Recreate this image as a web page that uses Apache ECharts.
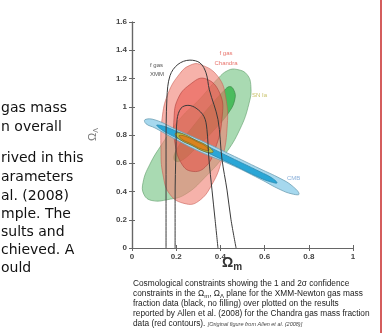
<!DOCTYPE html>
<html>
<head>
<meta charset="utf-8">
<script src="https://cdn.jsdelivr.net/npm/echarts@6/dist/echarts.min.js"></script>
<style>
html, body { margin: 0; padding: 0; background: #fff; }
#chart { width: 390px; height: 333px; }
</style>
</head>
<body>
<div id="chart"></div>
<script>
// contour outlines, [Omega_m, Omega_Lambda]
const snIa2 = [[0.475,1.264],[0.520,1.229],[0.538,1.143],[0.529,1.021],[0.489,0.843],[0.421,0.664],[0.330,0.50],[0.240,0.379],[0.163,0.343],[0.090,0.336],[0.054,0.379],[0.050,0.464],[0.081,0.593],[0.136,0.736],[0.217,0.914],[0.308,1.057],[0.389,1.20],[0.434,1.257]];
const snIa1 = [[0.443,1.143],[0.462,1.114],[0.466,1.057],[0.443,0.971],[0.376,0.843],[0.285,0.70],[0.217,0.614],[0.190,0.629],[0.208,0.714],[0.285,0.879],[0.362,1.021],[0.416,1.114]];
const chandra2 = [[0.308,1.30],[0.389,1.214],[0.425,1.057],[0.430,0.843],[0.407,0.629],[0.362,0.45],[0.299,0.329],[0.240,0.314],[0.172,0.379],[0.140,0.521],[0.131,0.70],[0.136,0.914],[0.163,1.093],[0.217,1.236],[0.262,1.293]];
const chandra1 = [[0.330,1.20],[0.398,1.093],[0.407,0.914],[0.376,0.70],[0.330,0.571],[0.271,0.543],[0.226,0.593],[0.195,0.736],[0.190,0.914],[0.208,1.057],[0.262,1.157]];
const cmb2 = [[0.059,0.909],[0.104,0.907],[0.195,0.843],[0.308,0.764],[0.443,0.664],[0.579,0.561],[0.670,0.493],[0.724,0.441],[0.756,0.382],[0.724,0.383],[0.670,0.414],[0.579,0.489],[0.443,0.593],[0.308,0.681],[0.195,0.771],[0.104,0.850],[0.063,0.880]];
const cmb1 = [[0.113,0.871],[0.172,0.846],[0.308,0.746],[0.443,0.643],[0.579,0.540],[0.633,0.496],[0.656,0.461],[0.624,0.470],[0.579,0.497],[0.443,0.600],[0.308,0.700],[0.172,0.803],[0.127,0.846]];
const joint2 = [[0.195,0.810],[0.226,0.811],[0.285,0.766],[0.339,0.725],[0.367,0.680],[0.330,0.682],[0.271,0.726],[0.217,0.768]];
const joint1 = [[0.213,0.796],[0.244,0.790],[0.299,0.749],[0.330,0.725],[0.348,0.693],[0.317,0.699],[0.262,0.741],[0.226,0.769]];
const xmmOuter = [[0.154,0],[0.154,0.34],[0.154,0.70],[0.158,1.06],[0.172,1.22],[0.208,1.30],[0.262,1.33],[0.308,1.31],[0.335,1.24],[0.350,1.12],[0.389,0.91],[0.407,0.63],[0.430,0.41],[0.448,0.20],[0.471,0]];
const xmmInner = [[0.195,0],[0.195,0.34],[0.199,0.70],[0.204,0.91],[0.222,0.99],[0.253,1.01],[0.290,0.99],[0.326,0.93],[0.339,0.84],[0.348,0.63],[0.362,0.41],[0.376,0.20],[0.389,0]];

const bodyLines = ['gas mass', 'n overall', 'rived in this', 'arameters', 'al. (2008)', 'mple. The', 'sults and', 'chieved. A', 'ould'];
const bodyY = [109, 128, 159, 178, 197, 215, 233, 251, 269];
const captionLines = [
  'Cosmological constraints showing the 1 and 2\u03c3 confidence',
  'constraints in the \u03a9{s|m}, \u03a9{s|\u039b} plane for the XMM-Newton gas mass',
  'fraction data (black, no filling) over plotted on the results',
  'reported by Allen et al. (2008) for the Chandra gas mass fraction',
  'data (red contours). {sm|[Original figure from Allen et al. (2008)]}'
];

const chart = echarts.init(document.getElementById('chart'));

function blob(name, pts, fill, stroke, z) {
  return {
    type: 'custom',
    name: name,
    z: z,
    silent: true,
    clip: true,
    data: [0],
    renderItem: function (params, api) {
      return {
        type: 'polygon',
        shape: { points: pts.map(p => api.coord(p)), smooth: 0.45 },
        style: { fill: fill, stroke: stroke, lineWidth: 0.8 }
      };
    }
  };
}

function contour(name, pts) {
  return {
    type: 'line',
    name: name,
    z: 20,
    data: pts,
    smooth: 0.35,
    showSymbol: false,
    silent: true,
    lineStyle: { color: '#3a3a3a', width: 1 }
  };
}

const tickLabel = { color: '#444', fontSize: 8, fontWeight: 'bold', fontFamily: 'Liberation Sans' };
const frame = { lineStyle: { color: '#666', width: 1.2 } };
const ticks = { inside: true, length: 3, lineStyle: { color: '#666' } };

const graphics = [];
bodyLines.forEach((t, i) => {
  graphics.push({ type: 'text', left: 1, top: bodyY[i] - 8,
    style: { text: t, fill: '#111', font: '14px "DejaVu Sans"' } });
});
captionLines.forEach((t, i) => {
  graphics.push({ type: 'text', left: 133, top: 280 + i * 10,
    style: { text: t, fill: '#222', fontSize: 8.3, fontFamily: 'Liberation Sans',
      rich: { s: { fontSize: 6, padding: [4, 0, 0, 0] }, sm: { fontSize: 5.5, fontStyle: 'italic', fill: '#444' } } } });
});
graphics.push(
  { type: 'line', shape: { x1: 381, y1: 0, x2: 381, y2: 333 }, style: { stroke: '#c21818', lineWidth: 1.4 } },
  { type: 'text', left: 222, top: 256, style: { text: '\u03a9{m|m}', fill: '#333', font: 'bold 14px "Liberation Sans"',
      rich: { m: { font: 'bold 10px "Liberation Sans"', padding: [8, 0, 0, 0] } } } },
  { type: 'text', x: 86, y: 141, rotation: Math.PI / 2, style: { text: '\u03a9{l|\u039b}', fill: '#777', font: '11px "Liberation Sans"',
      rich: { l: { font: '7px "Liberation Sans"', padding: [7, 0, 0, 0] } } } },
  { type: 'text', left: 150, top: 61, style: { text: 'f gas\nXMM', fill: '#555', fontSize: 6, lineHeight: 9, fontFamily: 'Liberation Sans' } },
  { type: 'text', x: 226, y: 48, style: { text: 'f gas\nChandra', fill: '#e8736b', fontSize: 6, lineHeight: 10, align: 'center', fontFamily: 'Liberation Sans' } },
  { type: 'text', left: 252, top: 92, style: { text: 'SN Ia', fill: '#c9c26a', fontSize: 6, fontFamily: 'Liberation Sans' } },
  { type: 'text', left: 287, top: 175, style: { text: 'CMB', fill: '#8ab0da', fontSize: 6, fontFamily: 'Liberation Sans' } }
);

chart.setOption({
  animation: false,
  grid: { left: 132, right: 37, top: 22, bottom: 85 },
  xAxis: [
    { type: 'value', min: 0, max: 1, interval: 0.2, axisLine: frame, axisTick: ticks,
      splitLine: { show: false }, axisLabel: Object.assign({ margin: 5 }, tickLabel) },
    { type: 'value', position: 'top', min: 0, max: 1, interval: 0.2, axisLine: frame, axisTick: ticks,
      splitLine: { show: false }, axisLabel: { show: false } }
  ],
  yAxis: [
    { type: 'value', min: 0, max: 1.6, interval: 0.2, axisLine: frame, axisTick: ticks,
      splitLine: { show: false }, axisLabel: Object.assign({ margin: 5 }, tickLabel) },
    { type: 'value', position: 'right', min: 0, max: 1.6, interval: 0.2, axisLine: frame, axisTick: ticks,
      splitLine: { show: false }, axisLabel: { show: false } }
  ],
  graphic: graphics,
  series: [
    blob('SN Ia 2s', snIa2, 'rgba(160,214,170,0.9)', 'rgba(100,160,110,0.8)', 2),
    blob('SN Ia 1s', snIa1, 'rgba(70,186,88,0.95)', 'rgba(60,130,70,0.8)', 3),
    blob('Chandra 2s', chandra2, 'rgba(240,130,118,0.62)', 'rgba(200,90,80,0.7)', 4),
    blob('Chandra 1s', chandra1, 'rgba(232,80,70,0.55)', 'rgba(170,60,55,0.7)', 5),
    blob('CMB 2s', cmb2, '#a6d8ee', '#6f9fb4', 6),
    blob('CMB 1s', cmb1, '#2aa6d6', '#2a8ab0', 7),
    blob('joint 2s', joint2, '#b7bf45', '#6d6d3a', 8),
    blob('joint 1s', joint1, '#d9841e', '#9a6020', 9),
    contour('XMM 2s', xmmOuter),
    contour('XMM 1s', xmmInner)
  ]
});
</script>
</body>
</html>
